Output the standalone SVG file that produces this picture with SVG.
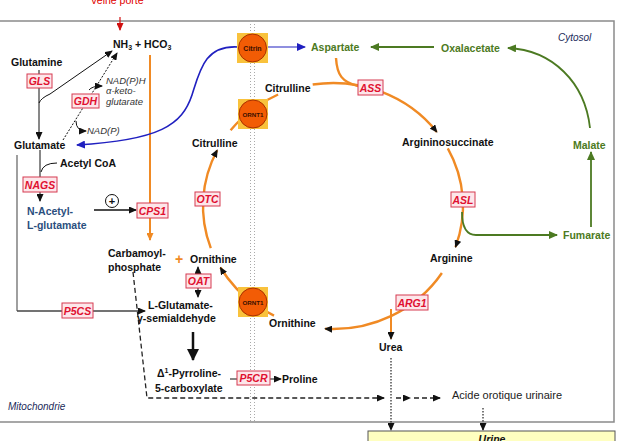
<svg xmlns="http://www.w3.org/2000/svg" width="622" height="441" viewBox="0 0 622 441">
<defs>
<style>
text{font-family:"Liberation Sans",Arial,sans-serif;font-size:10.5px;font-weight:bold;fill:#111}
.enz rect{fill:#fde6ea;stroke:#d63a50;stroke-width:1}
.enz text{fill:#e01030;font-style:italic;text-anchor:middle}
.it{font-style:italic;font-weight:normal;font-size:9.5px;fill:#333}
.grn{fill:#4c7a22}
.orange{fill:none;stroke:#f08a24;stroke-width:2.4}
.blk{fill:none;stroke:#111;stroke-width:1}
.green{fill:none;stroke:#4c7a22;stroke-width:1.8}
.sq{fill:#f9c23c}
.cir{fill:#f25c05;stroke:#a83200;stroke-width:1}
.ctx{font-size:7px;text-anchor:middle;fill:#3a1000}
</style>
<marker id="ak" markerUnits="userSpaceOnUse" markerWidth="8" markerHeight="7" refX="7" refY="3.5" orient="auto"><path d="M0,0 L8,3.5 L0,7 z" fill="#111"/></marker>
<marker id="ao" markerUnits="userSpaceOnUse" markerWidth="8" markerHeight="7" refX="7" refY="3.5" orient="auto"><path d="M0,0 L8,3.5 L0,7 z" fill="#f08a24"/></marker>
<marker id="ag" markerUnits="userSpaceOnUse" markerWidth="9" markerHeight="8" refX="8" refY="4" orient="auto"><path d="M0,0 L9,4 L0,8 z" fill="#4c7a22"/></marker>
<marker id="ab" markerUnits="userSpaceOnUse" markerWidth="9" markerHeight="8" refX="8" refY="4" orient="auto"><path d="M0,0 L9,4 L0,8 z" fill="#2020c0"/></marker>
<marker id="ar" markerUnits="userSpaceOnUse" markerWidth="8" markerHeight="7" refX="7" refY="3.5" orient="auto"><path d="M0,0 L8,3.5 L0,7 z" fill="#d01010"/></marker>
<marker id="abig" markerUnits="userSpaceOnUse" markerWidth="12" markerHeight="12" refX="11" refY="6" orient="auto"><path d="M0,0 L12,6 L0,12 z" fill="#111"/></marker>
</defs>

<g id="frame">
<rect x="-2" y="21" width="616" height="401" fill="none" stroke="#8a8a8a" stroke-width="1.5"/>
<line x1="250.5" y1="21" x2="250.5" y2="422" stroke="#aaa" stroke-width="1" stroke-dasharray="1,2"/>
<line x1="254.5" y1="21" x2="254.5" y2="422" stroke="#aaa" stroke-width="1" stroke-dasharray="1,2"/>
<text x="117" y="4" text-anchor="middle" style="fill:#e00000;font-weight:normal;font-size:10.5px">Veine porte</text>
<text x="558" y="41" class="it" style="fill:#1a2a5a;font-size:10px">Cytosol</text>
<text x="8" y="410" class="it" style="fill:#1a2a5a;font-size:10px">Mitochondrie</text>
</g>

<g id="connectors">
<line x1="120" y1="17" x2="120" y2="30" stroke="#d01010" stroke-width="1.2" marker-end="url(#ar)"/>
<line x1="39" y1="70" x2="39" y2="139" class="blk" stroke="#555" marker-end="url(#ak)"/>
<path d="M39,103 Q41,98 50,94 L112,51" class="blk" marker-end="url(#ak)"/>
<path d="M63,140 L117,53" class="blk" stroke-dasharray="2,1.5" marker-end="url(#ak)"/>
<path d="M89,90 Q92,86 102,86" class="blk" marker-end="url(#ak)"/>
<path d="M76,121 Q76,131 86,131" class="blk" marker-end="url(#ak)"/>
<path d="M40,150 L40,177" class="blk"/>
<path d="M57,163 Q43,163 41,172" class="blk"/>
<line x1="40" y1="192" x2="40" y2="201" class="blk" marker-end="url(#ak)"/>
<line x1="94" y1="210" x2="136" y2="210" stroke="#111" stroke-width="1.6" marker-end="url(#ak)"/>
<path d="M17,155 L17,311" fill="none" stroke="#888" stroke-width="1.6"/>
<path d="M17,311 L145,311" fill="none" stroke="#444" stroke-width="1.3" marker-end="url(#ak)"/>
<line x1="198" y1="274" x2="198" y2="267" class="blk" marker-end="url(#ak)"/>
<line x1="198" y1="288" x2="198" y2="297" class="blk" marker-end="url(#ak)"/>
<line x1="193" y1="332" x2="193" y2="360" stroke="#111" stroke-width="2.5" marker-end="url(#abig)"/>
<line x1="230" y1="379" x2="237" y2="379" class="blk"/>
<line x1="270" y1="379" x2="281" y2="379" class="blk" marker-end="url(#ak)"/>
<path d="M133,272 L147,398 L384,398" fill="none" stroke="#222" stroke-width="1.3" stroke-dasharray="5,3" marker-end="url(#ak)"/>
<path d="M396,398 L410,398" fill="none" stroke="#222" stroke-width="1.3" stroke-dasharray="5,3" marker-end="url(#ak)"/>
<path d="M414,398 L440,398" fill="none" stroke="#222" stroke-width="1.3" stroke-dasharray="5,3" marker-end="url(#ak)"/>
<line x1="391" y1="358" x2="391" y2="430" stroke="#222" stroke-width="1.2" stroke-dasharray="1.5,1.5" marker-end="url(#ak)"/>
<line x1="483" y1="408" x2="483" y2="430" stroke="#222" stroke-width="1.2" stroke-dasharray="1.5,1.5" marker-end="url(#ak)"/>
<line x1="150" y1="55" x2="150" y2="240" stroke="#f08a24" stroke-width="2" marker-end="url(#ao)"/>
<path d="M312.7,84.5 A130,123 0 0 1 436.8,132" class="orange" marker-end="url(#ak)"/>
<path d="M336,58 C337,75 342,82 358,86" class="orange"/>
<path d="M447.8,148.3 A130,123 0 0 1 455.5,247.1" class="orange" marker-end="url(#ak)"/>
<path d="M441.9,273 A130,123 0 0 1 325.1,328.8" class="orange" marker-end="url(#ak)"/>
<line x1="391" y1="309" x2="391" y2="339" stroke="#f08a24" stroke-width="2" marker-end="url(#ak)"/>
<path d="M274,315.6 A130,123 0 0 1 220.4,267.5" class="orange" marker-end="url(#ak)"/>
<path d="M210.8,248.1 A130,123 0 0 1 217.2,150.2" class="orange" marker-end="url(#ak)"/>
<path d="M230.6,130.3 A130,123 0 0 1 278.1,94.5" class="orange"/>
<path d="M238,47 C205,45 200,70 192,95 C182,125 160,140 77,145" fill="none" stroke="#2020c0" stroke-width="1.6" marker-end="url(#ab)"/>
<line x1="268" y1="47" x2="305" y2="47" stroke="#2020c0" stroke-width="1.2" marker-end="url(#ab)"/>
<path d="M462,212 Q462,235 476,235 L557,235" class="green" marker-end="url(#ag)"/>
<line x1="591" y1="227" x2="591" y2="152" class="green" marker-end="url(#ag)"/>
<path d="M590,128 C585,82 552,50 508,48" class="green" marker-end="url(#ag)"/>
<line x1="434" y1="47" x2="371" y2="47" class="green" marker-end="url(#ag)"/>
</g>

<g id="citrin"><rect x="237" y="33" width="31" height="30" class="sq"/><circle cx="252.5" cy="48" r="14" class="cir"/><text x="252.5" y="50.5" class="ctx">Citrin</text></g>
<g id="ornt1-top"><rect x="238" y="99" width="30" height="30" class="sq"/><circle cx="253" cy="114" r="14" class="cir"/><text x="253" y="116.5" class="ctx" style="font-size:6.2px">ORNT1</text></g>
<g id="ornt1-bottom"><rect x="238" y="287" width="30" height="30" class="sq"/><circle cx="253" cy="302" r="14" class="cir"/><text x="253" y="304.5" class="ctx" style="font-size:6.2px">ORNT1</text></g>

<g id="nh3"><text x="113" y="48">NH<tspan font-size="7" dy="2">3</tspan><tspan dy="-2"> + HCO</tspan><tspan font-size="7" dy="2">3</tspan></text></g>
<g id="glutamine"><text x="11" y="66">Glutamine</text></g>
<g id="glutamate"><text x="14" y="149">Glutamate</text></g>
<g id="cofactors">
<text x="106" y="84" class="it">NAD(P)H</text>
<text x="106" y="94" class="it">α-keto-</text>
<text x="106" y="105" class="it">glutarate</text>
<text x="87" y="134" class="it">NAD(P)</text>
</g>
<g id="acetylcoa"><text x="60" y="167">Acetyl CoA</text></g>
<g id="nacetyl"><text x="27" y="215" style="fill:#2b4f7e">N-Acetyl-</text><text x="27" y="229" style="fill:#2b4f7e">L-glutamate</text></g>
<g id="activation"><circle cx="112" cy="201" r="6.5" fill="#fff" stroke="#111" stroke-width="1"/><text x="112" y="205" text-anchor="middle" style="font-size:11px">+</text></g>
<g id="carbamoyl"><text x="108" y="257">Carbamoyl-</text><text x="108" y="271">phosphate</text></g>
<g id="plus"><text x="179" y="264" text-anchor="middle" style="fill:#f08a24;font-size:14px">+</text></g>
<g id="ornithine-mito"><text x="190" y="263">Ornithine</text></g>
<g id="citrulline-mito"><text x="192" y="147">Citrulline</text></g>
<g id="glusa"><text x="148" y="309">L-Glutamate-</text><text x="137" y="322">γ-semialdehyde</text></g>
<g id="p5c"><text x="157" y="377">Δ<tspan font-size="7" dy="-4">1</tspan><tspan dy="4">-Pyrroline-</tspan></text><text x="155" y="392">5-carboxylate</text></g>
<g id="proline"><text x="282" y="383">Proline</text></g>
<g id="citrulline-cyto"><text x="265" y="92">Citrulline</text></g>
<g id="aspartate"><text x="311" y="51" class="grn">Aspartate</text></g>
<g id="oxalacetate"><text x="441" y="52" class="grn">Oxalacetate</text></g>
<g id="malate"><text x="573" y="149" class="grn">Malate</text></g>
<g id="fumarate"><text x="563" y="239" class="grn">Fumarate</text></g>
<g id="argininosuccinate"><text x="402" y="146">Argininosuccinate</text></g>
<g id="arginine"><text x="430" y="262">Arginine</text></g>
<g id="ornithine-cyto"><text x="269" y="327">Ornithine</text></g>
<g id="urea"><text x="379" y="351">Urea</text></g>
<g id="orotic"><text x="452" y="399" style="font-weight:normal;font-size:11px;fill:#222">Acide orotique urinaire</text></g>
<g id="urine"><rect x="368" y="431" width="247" height="14" fill="#ffffc0" stroke="#555" stroke-width="1"/><text x="492" y="443" text-anchor="middle" style="font-style:italic">Urine</text></g>

<g id="GLS" class="enz"><rect x="27" y="74" width="25" height="14"/><text x="39.5" y="85">GLS</text></g>
<g id="GDH" class="enz"><rect x="72" y="94" width="27" height="14"/><text x="85.5" y="105">GDH</text></g>
<g id="NAGS" class="enz"><rect x="23" y="177" width="34" height="15"/><text x="40" y="188.5">NAGS</text></g>
<g id="CPS1" class="enz"><rect x="137" y="203" width="31" height="15"/><text x="152.5" y="214.5">CPS1</text></g>
<g id="OAT" class="enz"><rect x="186" y="274" width="25" height="14"/><text x="198.5" y="285">OAT</text></g>
<g id="P5CS" class="enz"><rect x="62" y="303" width="31" height="15"/><text x="77.5" y="314.5">P5CS</text></g>
<g id="P5CR" class="enz"><rect x="237" y="371" width="33" height="14"/><text x="253.5" y="382">P5CR</text></g>
<g id="OTC" class="enz"><rect x="195" y="192" width="25" height="14"/><text x="207.5" y="203">OTC</text></g>
<g id="ASS" class="enz"><rect x="358" y="80" width="25" height="15"/><text x="370.5" y="91.5">ASS</text></g>
<g id="ASL" class="enz"><rect x="451" y="192" width="24" height="15"/><text x="463" y="203.5">ASL</text></g>
<g id="ARG1" class="enz"><rect x="396" y="295" width="32" height="15"/><text x="412" y="306.5">ARG1</text></g>
</svg>
